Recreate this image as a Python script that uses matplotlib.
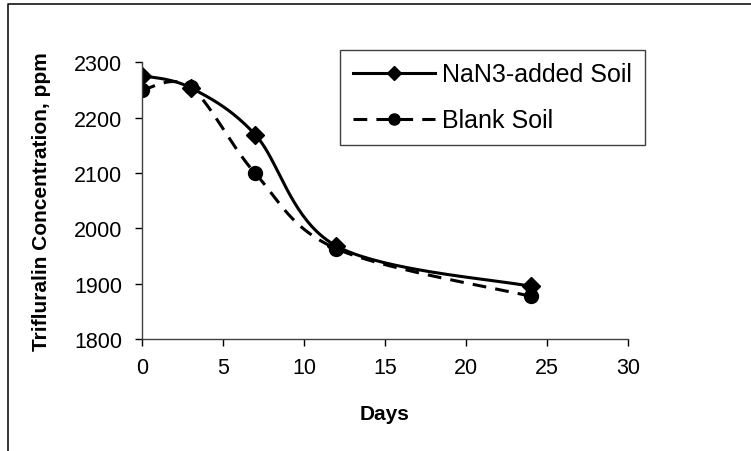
import numpy as np
import matplotlib.pyplot as plt
from matplotlib.lines import Line2D

plt.rcParams['font.family'] = ['Liberation Sans', 'DejaVu Sans']

days = [0, 3, 7, 12, 24]
nan3_soil = [2276, 2254, 2169, 1968, 1895]
blank_soil = [2250, 2255, 2099, 1963, 1877]
x_ticks = [0, 5, 10, 15, 20, 25, 30]
y_ticks = [1800, 1900, 2000, 2100, 2200, 2300]


def smooth(x, y, sx, sy, n=40):
    # Excel-style smoothed line: bezier through points, tension 1/6, in screen units
    px = np.array(x, float) * sx
    py = np.array(y, float) * sy
    outx, outy = [], []
    for i in range(len(px) - 1):
        p0 = np.array([px[max(i - 1, 0)], py[max(i - 1, 0)]])
        p1 = np.array([px[i], py[i]])
        p2 = np.array([px[i + 1], py[i + 1]])
        p3 = np.array([px[min(i + 2, len(px) - 1)], py[min(i + 2, len(px) - 1)]])
        c1 = p1 + (p2 - p0) / 6
        c2 = p2 - (p3 - p1) / 6
        t = np.linspace(0, 1, n)[:, None]
        b = (1 - t) ** 3 * p1 + 3 * (1 - t) ** 2 * t * c1 + 3 * (1 - t) * t ** 2 * c2 + t ** 3 * p2
        outx.extend(b[:, 0] / sx)
        outy.extend(b[:, 1] / sy)
    return outx, outy


fig = plt.figure(figsize=(7.51, 4.52), dpi=100)
ax = fig.add_axes([0.189, 0.248, 0.647, 0.612])

sx, sy = 16.2, 0.553
lx, ly = smooth(days, nan3_soil, sx, sy)
ax.plot(lx, ly, color='black', lw=2.2)
ax.plot(days, nan3_soil, 'D', color='black', ms=9.5)
bx, by = smooth(days, blank_soil, sx, sy)
ax.plot(bx, by, color='black', lw=2.2, dashes=(4.5, 3))
ax.plot(days, blank_soil, 'o', color='black', ms=10)

ax.set_xlim(0, 30)
ax.set_ylim(1800, 2300)
ax.set_xticks(x_ticks)
ax.set_yticks(y_ticks)
ax.tick_params(labelsize=15.5, length=5, width=1, direction='out')
ax.tick_params(axis='x', pad=8)
ax.tick_params(axis='y', pad=9)
for s in ['top', 'right']:
    ax.spines[s].set_visible(False)
for s in ['left', 'bottom']:
    ax.spines[s].set_color('#404040')
    ax.spines[s].set_linewidth(1)
ax.set_xlabel('Days', fontsize=15, fontweight='bold', labelpad=19)
ax.set_ylabel('Trifluralin Concentration, ppm', fontsize=15, fontweight='bold', labelpad=17)

handles = [
    Line2D([], [], color='black', lw=2.2, marker='D', ms=7.5),
    Line2D([], [], color='black', lw=2.2, dashes=(4.5, 3), marker='o', ms=8),
]
leg = fig.legend(handles, ['NaN3-added Soil', 'Blank Soil'], loc='upper left',
                 bbox_to_anchor=(340 / 751, 1 - 51 / 452), fontsize=18,
                 handlelength=3.3, labelspacing=0.88, borderpad=0.5,
                 handletextpad=0.3, borderaxespad=0, fancybox=False, framealpha=1)
leg.get_frame().set_edgecolor('#404040')
leg.get_frame().set_linewidth(1)

# chart border (only left and top visible in the crop)
fig.add_artist(Line2D([0.0107, 0.0107, 1.0], [0.0, 0.988, 0.988],
                      transform=fig.transFigure, color='black', lw=1.1))

fig.savefig('out.png', dpi=100)
